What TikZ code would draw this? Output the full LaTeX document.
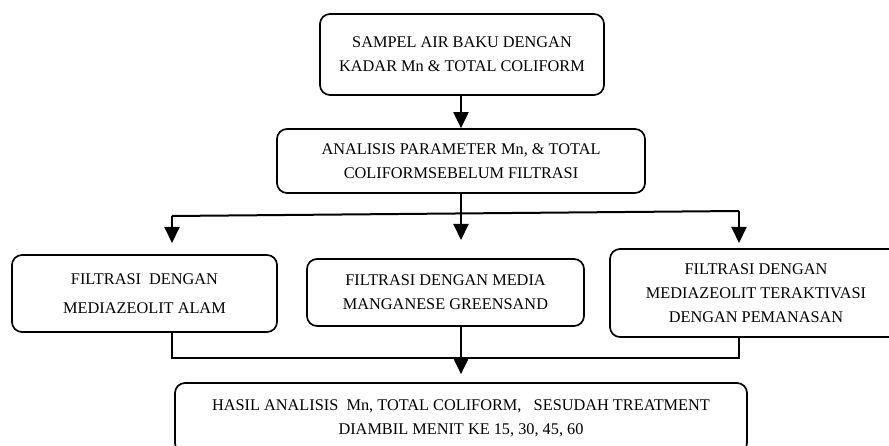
\documentclass[tikz,border=0pt]{standalone}
\usepackage{fontspec}
\setmainfont{Liberation Serif}
\usetikzlibrary{arrows.meta}
\begin{document}
\begin{tikzpicture}[x=1pt,y=-1pt,
  box/.style={draw, line width=1.7pt, rounded corners=10pt, align=center, inner sep=0pt,
    font=\fontsize{16.3}{24}\selectfont},
  conn/.style={line width=2pt},
  arr/.style={conn, -{Triangle[length=16pt,width=15pt]}}]
\useasboundingbox (0,0) rectangle (889,446);
\clip (0,0) rectangle (889,446);
\node[box, minimum width=284pt, minimum height=81pt] (b1) at (462,54.5)
  {SAMPEL AIR BAKU DENGAN\\KADAR Mn \& TOTAL COLIFORM};
\node[box, minimum width=368pt, minimum height=64pt] (b2) at (461,161)
  {ANALISIS PARAMETER Mn, \& TOTAL\\COLIFORMSEBELUM FILTRASI};
\node[box, minimum width=265pt, minimum height=77pt, font=\fontsize{16.3}{29}\selectfont] (b3) at (144.5,293.5)
  {FILTRASI\ \ DENGAN\\MEDIAZEOLIT ALAM};
\node[box, minimum width=277pt, minimum height=67pt] (b4) at (445.5,292.5)
  {FILTRASI DENGAN MEDIA\\MANGANESE GREENSAND};
\node[box, minimum width=292pt, minimum height=88pt] (b5) at (756,293)
  {FILTRASI DENGAN\\MEDIAZEOLIT TERAKTIVASI\\DENGAN PEMANASAN};
\node[box, minimum width=572pt, minimum height=70pt] (b6) at (461,418)
  {HASIL ANALISIS\ \ Mn, TOTAL COLIFORM,\ \ \ SESUDAH TREATMENT\\DIAMBIL MENIT KE 15, 30, 45, 60};
\coordinate (jL) at (172,216);
\coordinate (jR) at (739,211);
\coordinate (tL) at (172,243);
\coordinate (tR) at (739,243);
\coordinate (tC) at (461,240);
\coordinate (mB) at (739,358);
\draw[arr] (b1.south -| b2.north) -- (b2.north);
\draw[arr] (b2.south) -- (tC);
\draw[conn] (jL) -- (jR);
\draw[arr] (jL) -- (tL);
\draw[arr] (jR) -- (tR);
\draw[conn] (b3.south -| jL) |- (mB) -- (b5.south -| mB);
\draw[arr] (b4.south -| b6.north) -- ([yshift=8pt]b6.north);
\end{tikzpicture}
\end{document}
